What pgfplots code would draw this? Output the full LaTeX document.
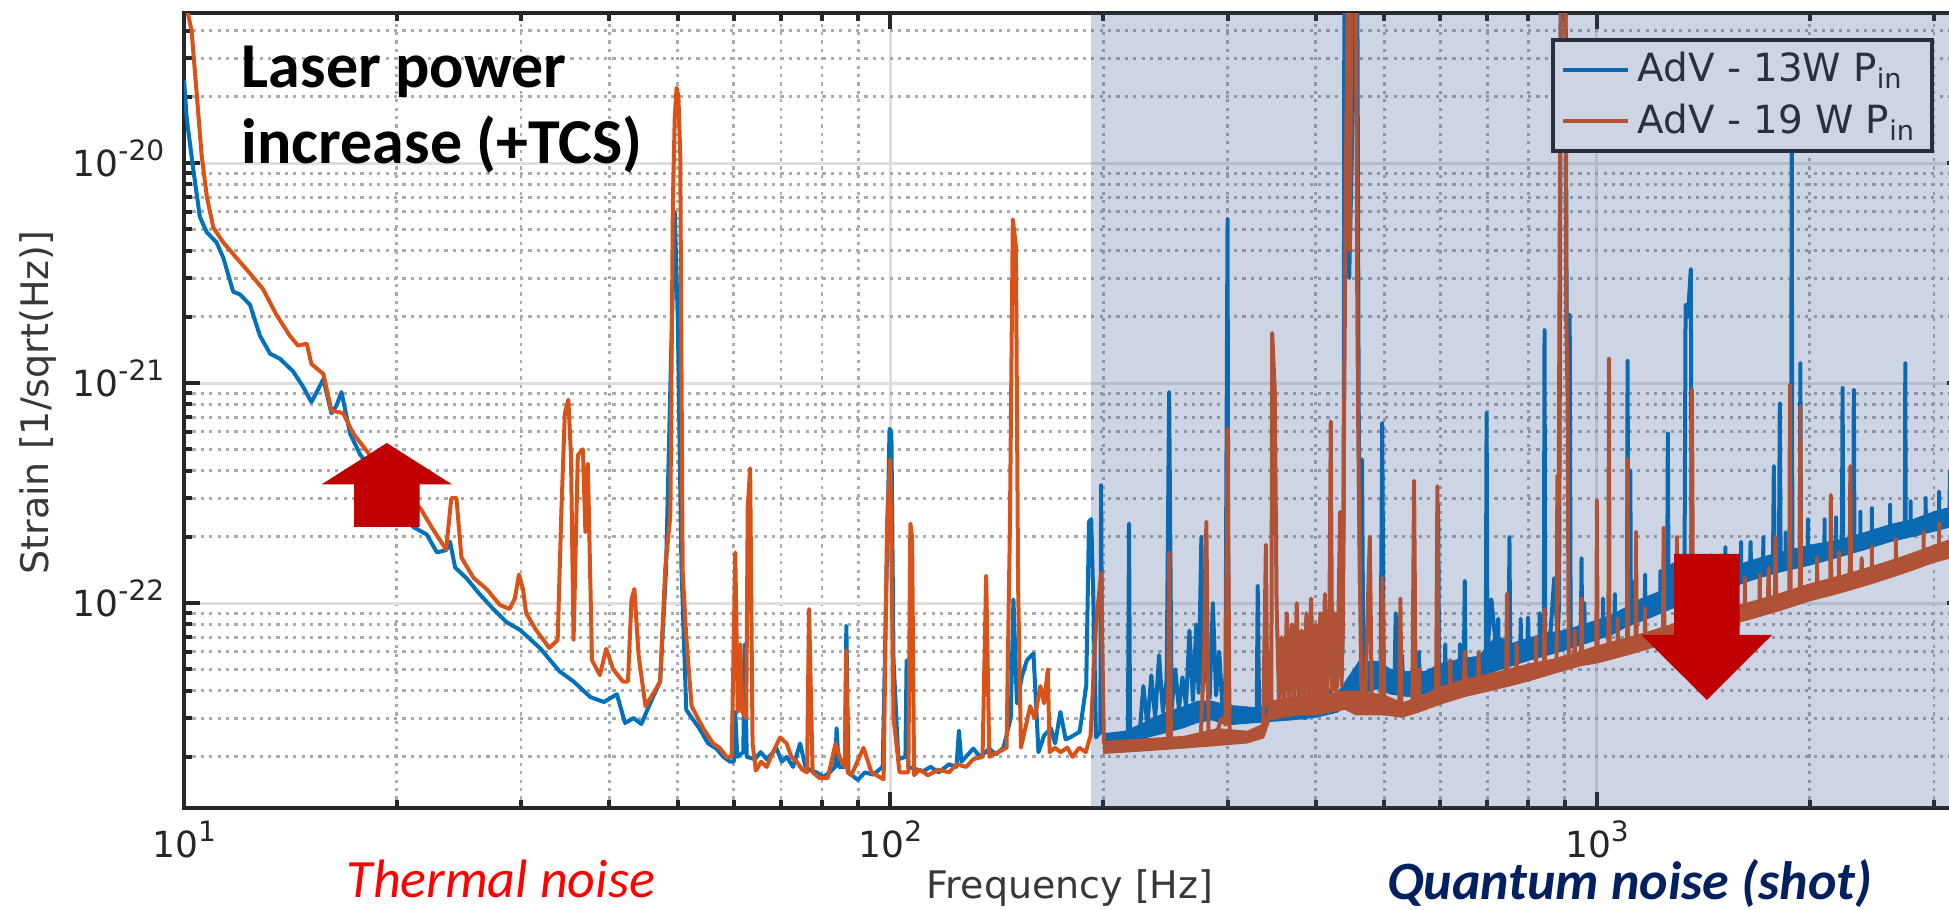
\documentclass[border=0pt]{standalone}
\usepackage{fontspec}
\setmainfont{DejaVu Sans}
\newfontfamily\calibri{Carlito}
\usepackage{pgfplots}
\usepackage{pgfplotstable}
\pgfplotsset{compat=1.18}

\definecolor{mblue}{RGB}{0,114,189}
\definecolor{morange}{RGB}{217,83,25}
\definecolor{arrowred}{RGB}{192,0,0}
\definecolor{navytext}{RGB}{0,32,96}
\definecolor{shadecol}{RGB}{47,80,147}
\definecolor{axisgray}{RGB}{38,38,38}

% power-of-ten tick label, exponent kept out of the label height
\newcommand\pw[1]{10\smash{\raisebox{3.9pt}{\fontsize{7}{7}\selectfont #1}}}

% ---------------- 13 W input power ----------------
\pgfplotstableread{
f s
10 2.39e-20
10.09 1.59e-20
10.31 9.3e-21
10.53 5.7e-21
10.77 4.85e-21
11.12 4.36e-21
11.37 3.7e-21
11.74 2.6e-21
12.0 2.53e-21
12.4 2.27e-21
12.81 1.64e-21
13.24 1.36e-21
13.67 1.29e-21
14.27 1.13e-21
14.75 9.6e-22
15.15 8.2e-22
15.75 1.04e-21
16.17 7.3e-22
16.44 7.9e-22
16.71 9.1e-22
17.18 5.9e-22
17.75 4.74e-22
18.5 4.0e-22
19.5 3.2e-22
20.3 2.6e-22
21.1 2.22e-22
22.06 2.05e-22
22.8 1.7e-22
23.5 1.74e-22
23.8 1.9e-22
24.2 1.45e-22
25.1 1.3e-22
26.2 1.1e-22
27.4 9.4e-23
28.6 8.2e-23
29.9 7.55e-23
31.9 6.25e-23
34.0 4.9e-23
35.6 4.4e-23
37.6 3.74e-23
39.3 3.55e-23
41.0 3.85e-23
42.1 2.85e-23
43.3 3.0e-23
44.4 2.82e-23
45.6 3.45e-23
47.2 4.4e-23
48.1 1.37e-22
48.9 1.26e-21
49.5 6.0e-21
50.0 1.94e-21
50.6 1.45e-22
51.4 3.27e-23
53.6 2.7e-23
55.2 2.3e-23
56.7 2.18e-23
58.0 2.0e-23
59.3 1.9e-23
60.0 1.9e-23
60.3 3.2e-23
60.7 2.0e-23
61.9 2.1e-23
62.2 6.5e-23
62.6 2.0e-23
64.3 1.95e-23
65.5 2.1e-23
66.8 1.95e-23
69.0 2.18e-23
70.2 1.9e-23
71.3 2.0e-23
72.8 1.8e-23
74.5 2.3e-23
75.8 1.8e-23
77.0 1.74e-23
78.6 1.7e-23
80.4 1.62e-23
82.0 1.7e-23
83.5 1.8e-23
83.9 2.7e-23
84.5 1.8e-23
86.2 1.8e-23
86.6 7.9e-23
87.2 1.7e-23
89.9 1.57e-23
92.0 1.7e-23
94.5 1.66e-23
97.5 1.8e-23
98.3 6.6e-23
99.7 6.2e-22
100.3 6.0e-22
101.0 5.5e-23
102.6 1.95e-23
105.0 2.0e-23
105.4 5.5e-23
106.0 1.8e-23
111.2 1.72e-23
114 1.8e-23
117 1.7e-23
121 1.85e-23
124 1.8e-23
125 2.63e-23
126 1.9e-23
131 2.18e-23
134 2.0e-23
138 2.18e-23
141 2.05e-23
144.5 2.2e-23
148 3.0e-23
149.3 1.04e-22
151 3.5e-23
153.5 4.65e-23
156 5.5e-23
159.4 5.9e-23
162 2.1e-23
165 2.5e-23
168.7 2.7e-23
171 2.3e-23
174 3.2e-23
177 2.4e-23
179.6 2.45e-23
185.3 2.6e-23
189.3 4.2e-23
191.0 2.34e-22
192.4 2.41e-22
194.0 8.9e-23
195.4 2.45e-23
198.2 2.6e-23
198.7 3.43e-22
199.5 2.6e-23
205 2.3e-23
211 2.2e-23
216.8 2.3e-23
217.6 2.3e-22
218.4 2.4e-23
222 2.5e-23
225 2.45e-23
228 4.2e-23
231 2.8e-23
234 4.7e-23
237 3.0e-23
240 5.8e-23
243 3.2e-23
246 4.5e-23
248 9.1e-22
250 3.3e-23
253 5.0e-23
256 3.3e-23
259 4.6e-23
262 3.4e-23
265 7.5e-23
268 3.6e-23
271 8.0e-23
273 3.9e-23
275.5 2.0e-22
277 4.0e-23
280 6.5e-23
283 3.7e-23
286 1.0e-22
289 3.8e-23
292 6.0e-23
295 3.4e-23
298 4.5e-23
300 5.55e-21
301 3.5e-23
305 3.2e-23
312 3.0e-23
318.6 3.1e-23
330 3.2e-23
331 1.2e-22
332.5 3.3e-23
343 3.4e-23
355 3.2e-23
366.6 3.2e-23
377 3.1e-23
387.5 3.0e-23
396 3.4e-23
405 3.5e-23
418 3.8e-23
430 5.0e-23
436 6.0e-23
438 3.0e-22
439 6e-20
444 6e-20
446 3.0e-21
455 6e-20
458 6e-20
460 7.9e-22
462 1.2e-22
465 4.5e-22
467 5.5e-23
476 5.0e-23
484 5.2e-23
494 4.6e-23
496.7 6.6e-22
499 4.6e-23
505 4.5e-23
517 4.4e-23
519 9.0e-23
521 4.3e-23
529 4.3e-23
530 5.8e-23
531 4.3e-23
550 4.2e-23
559 4.3e-23
560 6.0e-23
561 4.3e-23
580 4.4e-23
594 4.6e-23
596 2.76e-22
598 4.6e-23
609 4.7e-23
610 6.5e-23
611 4.7e-23
639 4.8e-23
640 6.5e-23
641 4.8e-23
648 4.9e-23
650 1.26e-22
652 4.9e-23
670 5.1e-23
682 5.2e-23
696 5.3e-23
698 7.3e-22
700 6.0e-23
709 1.04e-22
720 6.2e-23
724 6.0e-23
725 8.5e-23
726 6.0e-23
735 5.8e-23
750 5.9e-23
752 2.0e-22
754 5.9e-23
770 6.0e-23
779 6.0e-23
780 8.5e-23
781 6.0e-23
797 6.1e-23
799 8.6e-23
801 6.1e-23
820 6.3e-23
829 6.4e-23
830 9.0e-23
831 6.4e-23
841 6.5e-23
843 1.74e-21
845 6.6e-23
860 7.5e-23
870 1.3e-22
880 6.9e-23
884 1.0e-22
886 1.0e-21
889 6e-20
903 6e-20
906 2.0e-21
915 2.04e-21
918 7.0e-23
935 7.1e-23
949 7.2e-23
951 1.6e-22
953 7.2e-23
959 7.3e-23
960 1.0e-22
961 7.3e-23
980 7.4e-23
1000 7.6e-23
1019 7.7e-23
1020 1.05e-22
1021 7.7e-23
1044 7.9e-23
1059 8.1e-23
1060 1.1e-22
1061 8.1e-23
1080 8.3e-23
1103 8.6e-23
1105 1.26e-21
1108 8.6e-23
1113 8.7e-23
1115 4.0e-22
1117 8.8e-23
1129 9.0e-23
1130 1.25e-22
1131 9.0e-23
1150 9.2e-23
1169 9.4e-23
1170 1.35e-22
1171 9.4e-23
1185 9.5e-23
1210 9.7e-23
1229 9.9e-23
1230 1.4e-22
1231 9.9e-23
1257 1.01e-22
1260 5.9e-22
1263 1.02e-22
1279 1.05e-22
1280 1.5e-22
1281 1.05e-22
1300 1.09e-22
1330 1.1e-22
1335 2.27e-21
1345 2.0e-21
1358 3.3e-21
1362 1.13e-22
1399 1.15e-22
1400 1.6e-22
1401 1.15e-22
1420 1.17e-22
1449 1.2e-22
1450 1.65e-22
1451 1.2e-22
1484 1.24e-22
1519 1.27e-22
1520 1.8e-22
1521 1.27e-22
1560 1.3e-22
1599 1.35e-22
1600 1.9e-22
1601 1.35e-22
1647 1.39e-22
1650 1.9e-22
1653 1.39e-22
1700 1.42e-22
1719 1.45e-22
1720 2.0e-22
1721 1.45e-22
1775 1.49e-22
1780 4.2e-22
1785 1.5e-22
1810 1.52e-22
1815 8.1e-22
1820 1.52e-22
1849 1.54e-22
1850 2.1e-22
1851 1.54e-22
1883 1.56e-22
1887 1.5e-20
1891 1.56e-22
1937 1.6e-22
1941 1.23e-21
1945 1.6e-22
1989 1.63e-22
1990 2.4e-22
1991 1.63e-22
2050 1.67e-22
2099 1.7e-22
2100 2.4e-22
2101 1.7e-22
2147 1.73e-22
2179 1.75e-22
2180 2.45e-22
2181 1.75e-22
2222 1.77e-22
2227 9.5e-22
2232 1.77e-22
2305 1.8e-22
2310 9.3e-22
2315 1.8e-22
2359 1.83e-22
2360 2.6e-22
2361 1.83e-22
2400 1.85e-22
2449 1.88e-22
2450 2.7e-22
2451 1.88e-22
2535 1.95e-22
2599 1.98e-22
2600 2.8e-22
2601 1.98e-22
2650 2.0e-22
2728 2.05e-22
2732 1.23e-21
2736 2.05e-22
2779 2.08e-22
2780 2.9e-22
2781 2.08e-22
2850 2.12e-22
2919 2.2e-22
2920 3.0e-22
2921 2.2e-22
2985 2.3e-22
3049 2.33e-22
3050 3.2e-22
3051 2.33e-22
3100 2.37e-22
3155 2.42e-22
3160 4.0e-22
3165 2.42e-22
3229 2.5e-22
3230 3.3e-22
3231 2.5e-22
3300 2.55e-22
}\blueline

% spread of the 13 W floor above 200 Hz (lower edge, then upper edge back)
\pgfplotstableread{
f s
200 2.18e-23
215 2.18e-23
230 2.43e-23
245 2.56e-23
260 2.70e-23
272 2.85e-23
285 2.93e-23
300 2.78e-23
330 2.85e-23
370 2.93e-23
400 3.01e-23
430 3.18e-23
460 3.84e-23
490 4.06e-23
510 3.84e-23
540 3.74e-23
570 3.84e-23
600 4.17e-23
640 4.40e-23
680 4.52e-23
720 4.90e-23
760 5.17e-23
800 5.46e-23
850 5.76e-23
900 6.08e-23
950 6.42e-23
1000 6.78e-23
1050 7.15e-23
1100 7.76e-23
1150 8.19e-23
1200 8.64e-23
1300 9.63e-23
1400 1.044e-22
1500 1.13e-22
1650 1.26e-22
1800 1.368e-22
2000 1.48e-22
2200 1.609e-22
2400 1.745e-22
2600 1.892e-22
2800 1.998e-22
3000 2.109e-22
3300 2.287e-22
3300 2.84e-22
3000 2.617e-22
2800 2.41e-22
2600 2.287e-22
2400 2.109e-22
2200 1.945e-22
2000 1.842e-22
1800 1.698e-22
1650 1.566e-22
1500 1.405e-22
1400 1.296e-22
1300 1.228e-22
1200 1.102e-22
1150 1.044e-22
1100 9.63e-23
1050 8.88e-23
1000 8.41e-23
950 7.97e-23
900 7.55e-23
850 7.35e-23
800 6.96e-23
760 6.6e-23
720 7.15e-23
680 5.76e-23
640 5.6e-23
600 5.31e-23
570 4.90e-23
540 4.90e-23
510 5.03e-23
490 5.46e-23
460 5.46e-23
430 3.95e-23
400 3.54e-23
370 3.45e-23
330 3.36e-23
300 3.45e-23
285 3.6e-23
272 3.6e-23
260 3.4e-23
245 3.2e-23
230 2.9e-23
215 2.63e-23
200 2.56e-23
}\blueband

% ---------------- 19 W input power ----------------
\pgfplotstableread{
f s
10.0 6e-20
10.14 4.7e-20
10.25 4.0e-20
10.42 2.09e-20
10.59 1.09e-20
10.77 7.08e-21
11.0 5.1e-21
11.37 4.35e-21
11.87 3.7e-21
12.4 3.15e-21
12.94 2.67e-21
13.52 2.04e-21
14.12 1.64e-21
14.5 1.48e-21
14.92 1.51e-21
15.15 1.22e-21
15.75 1.1e-21
16.17 7.5e-22
16.8 7.3e-22
17.36 5.9e-22
18.3 4.74e-22
19.3 3.9e-22
20.4 3.2e-22
21.6 2.7e-22
22.5 2.17e-22
23.5 1.75e-22
23.9 3.0e-22
24.3 3.0e-22
24.7 1.61e-22
25.7 1.3e-22
26.8 1.16e-22
28.0 9.8e-23
28.9 9.4e-23
29.4 1.05e-22
29.8 1.35e-22
30.2 1.15e-22
30.5 9.0e-23
31.5 7.55e-23
32.9 6.25e-23
33.8 6.8e-23
34.2 2.5e-22
34.6 7.3e-22
35.0 8.4e-22
35.3 4.7e-22
35.6 6.8e-23
36.1 4.7e-22
36.7 5.0e-22
37.0 2.1e-22
37.3 4.3e-22
37.8 5.5e-23
38.8 4.7e-23
39.6 6.2e-23
40.5 5.0e-23
41.8 4.4e-23
42.5 4.4e-23
43.0 1.04e-22
43.4 1.16e-22
44.0 5.8e-23
45.0 3.4e-23
46.2 3.9e-23
47.2 4.4e-23
48.0 1.45e-22
48.8 2.5e-22
49.2 6.4e-21
49.5 1.6e-20
49.8 2.2e-20
50.1 2.0e-20
50.4 1.1e-20
50.8 1.4e-22
51.4 7.0e-23
52.3 3.4e-23
54.3 2.7e-23
56.1 2.3e-23
57.3 2.2e-23
58.6 2.0e-23
59.6 2.0e-23
60.3 1.7e-22
60.8 3.2e-23
61.3 6.5e-23
61.7 3.2e-23
62.5 3.0e-23
62.8 2.7e-22
63.3 4.1e-22
63.8 2.3e-23
64.5 1.73e-23
65.6 1.9e-23
66.8 1.8e-23
68.2 2.1e-23
69.8 2.45e-23
71.3 2.3e-23
72.4 2.0e-23
73.7 1.9e-23
75.0 1.75e-23
76.2 1.7e-23
76.7 9.4e-23
77.6 1.7e-23
79.4 1.6e-23
81.5 1.6e-23
83.6 2.3e-23
84.7 2.0e-23
86.2 1.8e-23
86.6 6.1e-23
87.0 1.7e-23
88 1.65e-23
91.6 2.2e-23
94 1.7e-23
97.8 1.58e-23
98.9 2.34e-22
99.9 4.5e-22
101 3.0e-23
103 1.7e-23
106.0 1.7e-23
106.7 2.3e-22
107.3 2.0e-22
108 1.65e-23
110 1.75e-23
113 1.65e-23
117 1.75e-23
121 1.7e-23
124 1.85e-23
128 1.8e-23
131 1.95e-23
135 2.0e-23
136.6 1.33e-22
138 2.0e-23
142 2.1e-23
146 2.2e-23
147.6 2.23e-22
149 5.55e-21
150.5 4.2e-21
151.6 1.2e-22
153 2.2e-23
157.7 3.4e-23
160 3.0e-23
163 4.2e-23
165 3.5e-23
167 5.0e-23
168 2.1e-23
171 2.2e-23
174 2.1e-23
178 2.2e-23
181 2.0e-23
185 2.2e-23
189 2.1e-23
192 2.5e-23
195.4 7.9e-23
198.7 1.37e-22
200.5 2.3e-23
207 2.2e-23
213 2.2e-23
219 2.3e-23
225 2.3e-23
232 2.2e-23
238 2.4e-23
247 2.3e-23
248 1.7e-22
249.5 2.3e-23
255 2.4e-23
262 2.4e-23
269 2.3e-23
275 2.5e-23
278 6.0e-23
280 2.34e-22
282 2.5e-23
288 2.4e-23
294 3.0e-23
298 2.8e-23
300 6.2e-22
302 2.5e-23
312 2.4e-23
320 2.5e-23
329 2.5e-23
337 2.8e-23
340 1.84e-22
341.5 3.4e-23
343 6.0e-23
346 3.4e-23
347 1.69e-21
350 9.1e-22
352 1.0e-22
355 3.5e-23
358 7.0e-23
361 3.4e-23
364 9.0e-23
367 3.6e-23
370 8.0e-23
373 3.5e-23
376 1.0e-22
379 3.6e-23
382 7.5e-23
385 3.5e-23
388 9.0e-23
391 3.6e-23
394 1.05e-22
397 3.5e-23
400 8.0e-23
403 3.7e-23
406 9.0e-23
409 3.6e-23
412 1.1e-22
415 3.8e-23
418 7.0e-23
420 6.7e-22
422 4.0e-23
425 9.0e-23
428 3.8e-23
431 1.0e-22
433 2.6e-22
435 4.2e-23
437 8.0e-23
439 1.0e-21
441 7.5e-21
444 6e-20
447 4e-21
449 6e-20
456 6e-20
458 2.0e-21
460 3.6e-22
464 4.0e-23
470 3.8e-23
477 2.0e-22
480 3.6e-23
494 3.5e-23
497 1.3e-22
500 3.4e-23
520 3.3e-23
525 3.3e-23
527 1.05e-22
529 3.3e-23
548 3.5e-23
551 3.6e-22
554 3.5e-23
559 3.5e-23
560 5.0e-23
561 3.5e-23
575 3.6e-23
592 3.8e-23
594.6 3.4e-22
597 3.8e-23
619 3.9e-23
620 5.5e-23
621 3.9e-23
648 4.0e-23
650 6.0e-23
652 4.0e-23
679 4.2e-23
680 6.0e-23
681 4.2e-23
700 4.3e-23
744 4.6e-23
746 1.1e-22
748 4.6e-23
769 4.7e-23
770 6.5e-23
771 4.7e-23
800 4.8e-23
819 4.9e-23
820 7.0e-23
821 4.9e-23
841 5.0e-23
843 9.4e-23
845 5.0e-23
877 5.2e-23
879 3.8e-22
882 1.0e-22
886 6.3e-21
889 6e-20
902 6e-20
905 2.0e-21
909 8.2e-22
912 5.4e-23
929 5.5e-23
930 7.5e-23
931 5.5e-23
949 5.6e-23
951 1.05e-22
953 5.6e-23
998 5.9e-23
1000 2.92e-22
1002 5.9e-23
1038 6.0e-23
1040 1.29e-21
1042 6.0e-23
1069 6.1e-23
1070 8.5e-23
1071 6.1e-23
1103 6.2e-23
1105 4.5e-22
1107 6.2e-23
1134 6.4e-23
1136 2.1e-22
1138 6.4e-23
1169 6.6e-23
1170 9.5e-23
1171 6.6e-23
1200 6.7e-23
1240 6.9e-23
1243 2.2e-22
1246 6.9e-23
1295 7.2e-23
1298 2.0e-22
1301 7.2e-23
1319 7.3e-23
1320 1.05e-22
1321 7.3e-23
1358 7.6e-23
1363 9.3e-22
1368 7.6e-23
1419 8.0e-23
1420 1.1e-22
1421 8.0e-23
1500 8.6e-23
1559 9.0e-23
1560 1.25e-22
1561 9.0e-23
1619 9.3e-23
1620 1.3e-22
1621 9.3e-23
1650 9.5e-23
1699 9.8e-23
1700 1.35e-22
1701 9.8e-23
1746 1.0e-22
1750 1.45e-22
1754 1.0e-22
1786 1.02e-22
1790 2.0e-22
1794 1.03e-22
1872 1.08e-22
1876 9.8e-22
1880 1.08e-22
1937 1.11e-22
1941 7.8e-22
1945 1.11e-22
2049 1.15e-22
2050 1.6e-22
2051 1.15e-22
2139 1.2e-22
2143 3.1e-22
2147 1.2e-22
2199 1.23e-22
2200 1.7e-22
2201 1.23e-22
2279 1.27e-22
2284 4.2e-22
2289 1.27e-22
2365 1.3e-22
2370 1.6e-22
2375 1.3e-22
2449 1.34e-22
2450 1.8e-22
2451 1.34e-22
2500 1.37e-22
2649 1.45e-22
2650 1.95e-22
2651 1.45e-22
2800 1.55e-22
2899 1.6e-22
2900 2.1e-22
2901 1.6e-22
3049 1.7e-22
3050 2.3e-22
3051 1.7e-22
3150 1.78e-22
3229 1.82e-22
3230 2.4e-22
3231 1.82e-22
3300 1.85e-22
}\orangeline

% spread of the 19 W floor above 200 Hz (lower edge, then upper edge back)
\pgfplotstableread{
f s
200 2.06e-23
230 2.12e-23
260 2.18e-23
290 2.24e-23
320 2.30e-23
338 2.43e-23
345 2.93e-23
360 3.01e-23
380 3.09e-23
400 3.09e-23
420 3.18e-23
440 3.27e-23
455 3.09e-23
470 3.09e-23
500 3.09e-23
530 3.01e-23
560 3.18e-23
600 3.45e-23
650 3.74e-23
700 3.95e-23
750 4.17e-23
800 4.40e-23
870 4.77e-23
950 5.17e-23
1000 5.31e-23
1100 5.76e-23
1200 6.25e-23
1300 6.78e-23
1400 7.35e-23
1500 7.76e-23
1650 8.41e-23
1800 9.12e-23
2000 1.017e-22
2200 1.102e-22
2400 1.195e-22
2600 1.296e-22
2800 1.405e-22
3000 1.524e-22
3300 1.652e-22
3300 2.05e-22
3000 1.842e-22
2800 1.698e-22
2600 1.566e-22
2400 1.444e-22
2200 1.331e-22
2000 1.228e-22
1800 1.102e-22
1650 1.017e-22
1500 9.37e-23
1400 8.64e-23
1300 8.19e-23
1200 7.55e-23
1100 6.96e-23
1000 6.42e-23
950 6.08e-23
870 5.6e-23
800 5.31e-23
750 5.03e-23
700 4.77e-23
650 4.52e-23
600 4.17e-23
560 3.74e-23
530 3.54e-23
500 3.84e-23
470 3.95e-23
455 4.0e-23
440 4.0e-23
420 3.9e-23
400 3.8e-23
380 3.8e-23
360 3.7e-23
345 3.6e-23
338 2.85e-23
320 2.63e-23
290 2.70e-23
260 2.49e-23
230 2.43e-23
200 2.36e-23
}\orangeband

\pgfplotsset{
  legend image code/.code={\draw[#1, line width=1pt] (0pt,0pt) -- (16.25pt,0pt);}
}

\begin{document}
\begin{tikzpicture}
\begin{axis}[
  at={(46pt,25.5pt)}, anchor=south west,
  scale only axis, width=444.8pt, height=198.75pt,
  xmode=log, ymode=log,
  xmin=10, xmax=3300, ymin=1.17e-23, ymax=4.81e-20,
  xtick={10,100,1000},
  xticklabels={\pw{1},\pw{2},\pw{3}},
  minor xtick={20,30,40,50,60,70,80,90,200,300,400,500,600,700,800,900,2000,3000},
  ytick={1e-22,1e-21,1e-20},
  yticklabels={\pw{-22},\pw{-21},\pw{-20}},
  minor ytick={2e-23,3e-23,4e-23,5e-23,6e-23,7e-23,8e-23,9e-23,
               2e-22,3e-22,4e-22,5e-22,6e-22,7e-22,8e-22,9e-22,
               2e-21,3e-21,4e-21,5e-21,6e-21,7e-21,8e-21,9e-21,
               2e-20,3e-20,4e-20},
  grid=both,
  major grid style={line width=0.75pt, color=black!13},
  minor grid style={line width=0.7pt, color=black!33, dash pattern=on 0.8pt off 1.3pt},
  axis line style={line width=1.1pt, color=axisgray},
  every tick/.style={line width=1pt, color=axisgray},
  major tick length=4pt, minor tick length=2pt,
  tick align=inside,
  xticklabel style={anchor=base, yshift=-12.25pt, inner sep=0pt,
                    font=\fontsize{9}{10}\selectfont, text=axisgray},
  yticklabel style={anchor=east, xshift=-4.75pt, inner sep=0pt,
                    font=\fontsize{9}{10}\selectfont, text=axisgray},
  xlabel={Frequency [Hz]},
  ylabel={Strain [1/sqrt(Hz)]},
  every axis x label/.style={at={(axis description cs:0.498,0)}, anchor=base,
                    yshift=-22.5pt, font=\fontsize{9.5}{11}\selectfont, text=black!78},
  every axis y label/.style={at={(axis description cs:-0.0764,0.51)}, rotate=90, anchor=base,
                    font=\fontsize{9.5}{11}\selectfont, text=black!78},
  legend style={at={(0.9837,0.9686)}, anchor=north east,
                draw=axisgray, line width=1.1pt, fill=white,
                font=\fontsize{9.7}{11}\selectfont, text=axisgray,
                inner xsep=2pt, inner ysep=1pt, row sep=0pt,
                nodes={inner sep=2pt}},
  legend cell align=left,
]
\addplot[draw=none, fill=mblue, forget plot] table {\blueband};
\addplot[mblue, line width=1pt, line join=round] table {\blueline};
\addlegendentry{AdV - 13W P\textsubscript{in}}
\addplot[draw=none, fill=morange, forget plot] table {\orangeband};
\addplot[morange, line width=1pt, line join=round] table {\orangeline};
\addlegendentry{AdV - 19 W P\textsubscript{in}}

\coordinate (shA) at (axis cs:192,1.17e-23);
\coordinate (shB) at (axis cs:3300,4.81e-20);
\end{axis}

% quantum-noise band
\fill[shadecol, opacity=0.24] (shA) rectangle (shB);

% arrows
\fill[arrowred] (96.7pt,116.75pt) -- (113pt,106.4pt) -- (104.9pt,106.4pt) -- (104.9pt,95.75pt)
  -- (88.5pt,95.75pt) -- (88.5pt,106.4pt) -- (80.4pt,106.4pt) -- cycle;
\fill[arrowred] (426.7pt,52.5pt) -- (443pt,68.75pt) -- (434.9pt,68.75pt) -- (434.9pt,89pt)
  -- (418.5pt,89pt) -- (418.5pt,68.75pt) -- (410.4pt,68.75pt) -- cycle;

% annotations
\node[anchor=base west, inner sep=0pt, font=\calibri\bfseries\fontsize{16}{18}\selectfont]
  at (60.25pt,205.5pt) {Laser power};
\node[anchor=base west, inner sep=0pt, font=\calibri\bfseries\fontsize{16}{18}\selectfont]
  at (60.25pt,186.5pt) {increase (+TCS)};
\node[anchor=base west, inner sep=0pt, text={rgb,255:red,255;green,0;blue,0},
  font=\calibri\itshape\fontsize{13.5}{16}\selectfont] at (86.5pt,3pt) {Thermal noise};
\node[anchor=base east, inner sep=0pt, text=navytext,
  font=\calibri\bfseries\itshape\fontsize{13.5}{16}\selectfont] at (468.25pt,2.5pt) {Quantum noise (shot)};

\pgfresetboundingbox
\useasboundingbox (0pt,0pt) rectangle (487.25pt,227.5pt);
\end{tikzpicture}
\end{document}
